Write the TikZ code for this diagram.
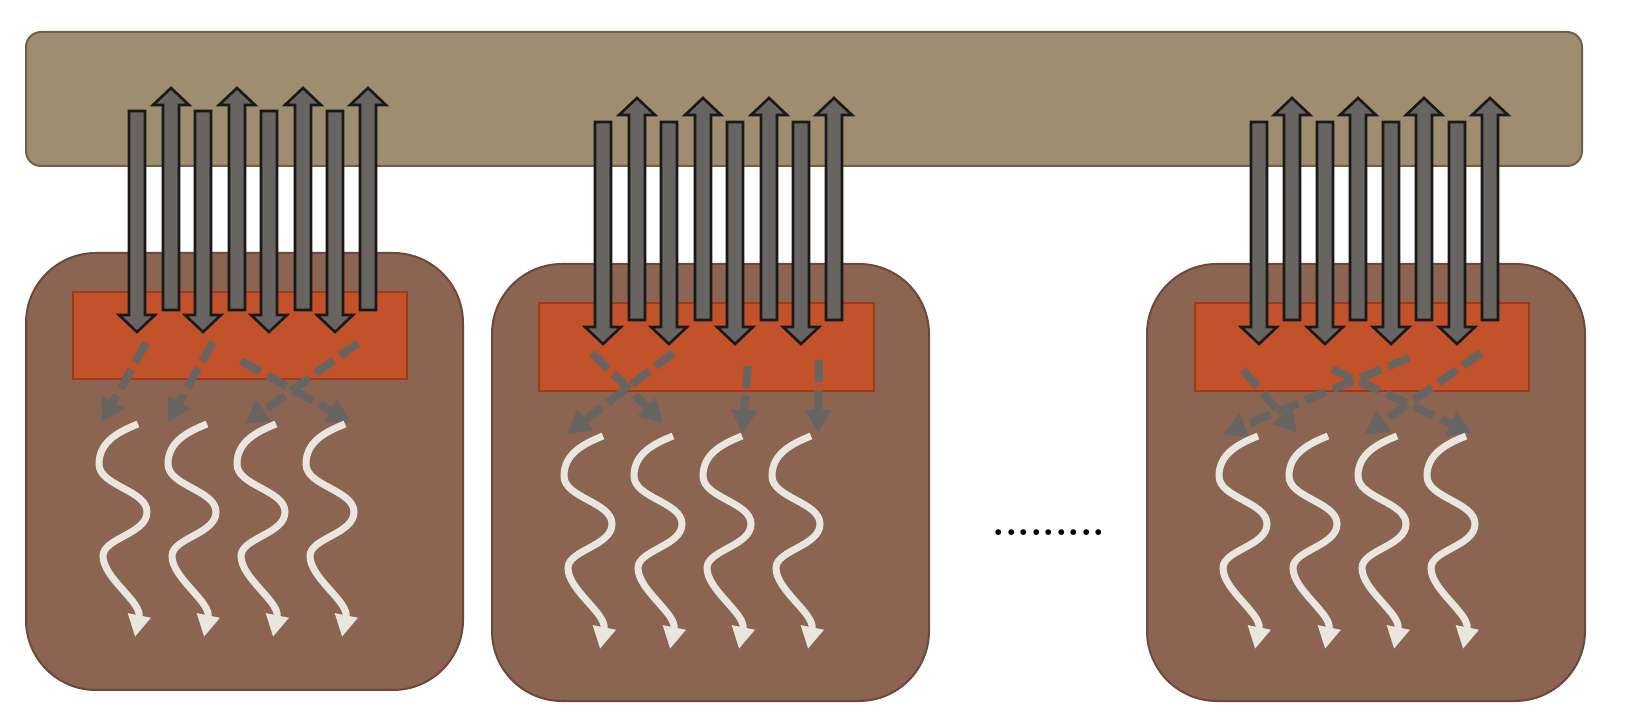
\documentclass[tikz,border=0pt]{standalone}
\usetikzlibrary{arrows.meta}
\definecolor{barfill}{HTML}{9E8D6E}
\definecolor{barline}{HTML}{6F6048}
\definecolor{boxfill}{HTML}{8C6452}
\definecolor{boxline}{HTML}{6B4A3B}
\definecolor{orfill}{HTML}{C2522A}
\definecolor{orline}{HTML}{9A3B1C}
\definecolor{arrgray}{HTML}{676462}
\definecolor{wavycol}{HTML}{E8E6DE}
\tikzset{
  barstyle/.style={fill=barfill,draw=barline,line width=1pt,rounded corners=7.5pt},
  boxstyle/.style={fill=boxfill,draw=boxline,line width=1pt,rounded corners=35pt},
  orstyle/.style={fill=orfill,draw=orline,line width=1pt},
  blockarrow/.style={fill=arrgray,draw=black!90,line width=1.3pt,line join=miter},
  dasharrow/.style={draw=arrgray,line width=4pt,dash pattern=on 11pt off 4pt,
    -{Triangle[length=11.5pt,width=12.5pt]}},
  wavyline/.style={draw=wavycol,line width=3.5pt,-{Triangle[length=11pt,width=11pt]}},
  wavy/.pic={\draw[wavyline] (0,0) .. controls (-20,8) and (-39,18) .. (-39,40)
      .. controls (-39,62) and (9,66) .. (9,88)
      .. controls (9,110) and (-35,114) .. (-35,132)
      .. controls (-35,154) and (4,178) .. (-3,213);}
}
\newcommand\DownArr[3]{\draw[blockarrow] (#1-8,#2) -- (#1+8,#2) -- (#1+8,#3-17) -- (#1+18,#3-17) -- (#1,#3) -- (#1-18,#3-17) -- (#1-8,#3-17) -- cycle;}
\newcommand\UpArr[3]{\draw[blockarrow] (#1-8,#3) -- (#1+8,#3) -- (#1+8,#2+17) -- (#1+18,#2+17) -- (#1,#2) -- (#1-18,#2+17) -- (#1-8,#2+17) -- cycle;}
\begin{document}
\begin{tikzpicture}[x=0.5pt,y=-0.5pt]
\fill[white] (0,0) rectangle (1628,726);
\useasboundingbox (0,0) rectangle (1628,726);
% top bar
\draw[barstyle] (26,32) rectangle (1582,166);
% boxes
\draw[boxstyle] (26,253) rectangle (463,690);
\draw[boxstyle] (492,264) rectangle (929,701);
\draw[boxstyle] (1147,264) rectangle (1585,701);
% orange blocks
\draw[orstyle] (73,292) rectangle (407,379);
\draw[orstyle] (539,303) rectangle (874,391);
\draw[orstyle] (1195,303) rectangle (1529,391);
% block arrows
\foreach \x in {137,203,269,335} {\DownArr{\x}{111}{332}}
\foreach \x in {171,237,303,368} {\UpArr{\x}{88}{310}}
\foreach \x in {603,669,735,801} {\DownArr{\x}{122}{344}}
\foreach \x in {637,703,769,834} {\UpArr{\x}{98}{320}}
\foreach \x in {1259,1325,1391,1457} {\DownArr{\x}{122}{344}}
\foreach \x in {1292,1358,1424,1490} {\UpArr{\x}{98}{320}}
% dashed arrows
\coordinate (a1) at (146,343); \coordinate (a2) at (102,422);
\coordinate (b1) at (213,342); \coordinate (b2) at (168,422);
\coordinate (c1) at (358,343); \coordinate (c2) at (245,424);
\coordinate (d1) at (241,361); \coordinate (d2) at (351,422);
\coordinate (e1) at (592,353); \coordinate (e2) at (663,423);
\coordinate (f1) at (673,353); \coordinate (f2) at (567,434);
\coordinate (g1) at (748,366); \coordinate (g2) at (742,433);
\coordinate (h1) at (819,360); \coordinate (h2) at (818,433);
\coordinate (i1) at (1243,370); \coordinate (i2) at (1297,433);
\coordinate (j1) at (1409,358); \coordinate (j2) at (1223,434);
\coordinate (k1) at (1332,369); \coordinate (k2) at (1472,433);
\coordinate (l1) at (1481,353); \coordinate (l2) at (1365,434);
\foreach \p in {a,b,c,d,e,f,g,h,i,j,k,l} {\draw[dasharrow] (\p1) -- (\p2);}
% wavy arrows
\foreach \x [count=\i] in {138,207,276,345} {\pic (wa\i) at (\x,424) {wavy};}
\foreach \x [count=\i] in {603,673,742,811} {\pic (wb\i) at (\x,436) {wavy};}
\foreach \x [count=\i] in {1258,1328,1397,1466} {\pic (wc\i) at (\x,436) {wavy};}
% dots
\node[font=\bfseries\fontsize{20}{20}\selectfont,inner sep=0pt] (dots) at (1049,533) {.........};
\end{tikzpicture}
\end{document}
